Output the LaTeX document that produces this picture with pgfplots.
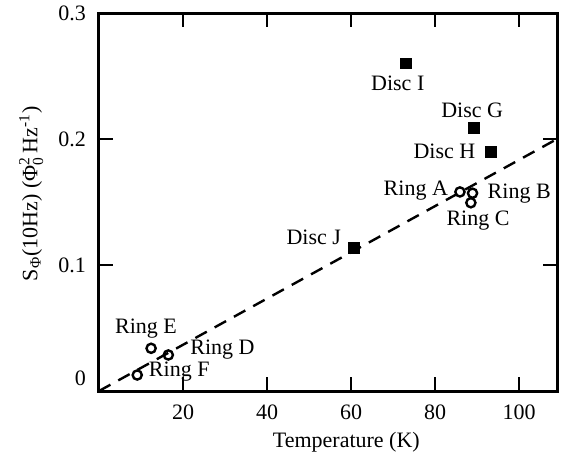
\documentclass[border=0pt]{standalone}
\usepackage{pgfplots}
\pgfplotsset{compat=1.18}
\usepackage{amsmath}
\usepackage{fontspec}
\setmainfont{Liberation Serif}
\begin{document}
\begin{tikzpicture}
\useasboundingbox (-49.5pt,-32.5pt) rectangle (231pt,195.5pt);
\begin{axis}[
  scale only axis, width=229pt, height=189pt,
  xmin=0, xmax=109, ymin=0, ymax=0.3,
  xtick={20,40,60,80,100}, ytick={0.1,0.2,0.3},
  extra y ticks={0},
  extra y tick style={yticklabel style={yshift=6.5pt}, major tick length=0pt},
  tick align=inside, xtick pos=both, ytick pos=both,
  major tick length=7pt,
  every tick/.style={black, line width=1pt},
  axis line style={line width=1.5pt},
  /pgf/number format/assume math mode=true,
  font=\fontsize{11}{13}\selectfont,
  xticklabel style={yshift=-3.5pt},
  yticklabel style={xshift=-3pt},
  xlabel={Temperature (K)},
  ylabel={S$_{\text{Φ}}$(10Hz) (Φ$_{\text{0}}^{\text{2}}$\,Hz$^{\text{-1}}$)},
  xlabel style={at={(axis description cs:0.54,-0.135)}, anchor=center},
  ylabel style={at={(axis description cs:-0.148,0.522)}, anchor=center, rotate=0},
  clip=false,
]
% dashed fit line
\addplot[black, line width=1.2pt, dash pattern=on 6.5pt off 4.5pt] coordinates {(0,0) (109,0.2)};
% Discs
\addplot[only marks, mark=square*, mark size=2.7pt, black, mark options={line width=0.5pt}] coordinates {
  (73.0,0.260) (89.3,0.209) (93.3,0.190) (60.7,0.1137)
};
% Rings
\addplot[only marks, mark=o, mark size=2.3pt, black, mark options={line width=1.2pt, fill=white}] coordinates {
  (85.9,0.158) (88.9,0.157) (88.5,0.1494) (16.5,0.0286) (12.4,0.0339) (9.1,0.0127)
};
\node at (axis cs:71.1,0.2444) {Disc I};
\node at (axis cs:88.8,0.223) {Disc G};
\node at (axis cs:82.2,0.1905) {Disc H};
\node at (axis cs:51.1,0.1222) {Disc J};
\node at (axis cs:75.4,0.1587) {Ring A};
\node at (axis cs:100.0,0.157) {Ring B};
\node at (axis cs:90.2,0.135) {Ring C};
\node at (axis cs:29.4,0.0325) {Ring D};
\node at (axis cs:11.2,0.0492) {Ring E};
\node at (axis cs:19.1,0.0151) {Ring F};
\end{axis}
\end{tikzpicture}
\end{document}
